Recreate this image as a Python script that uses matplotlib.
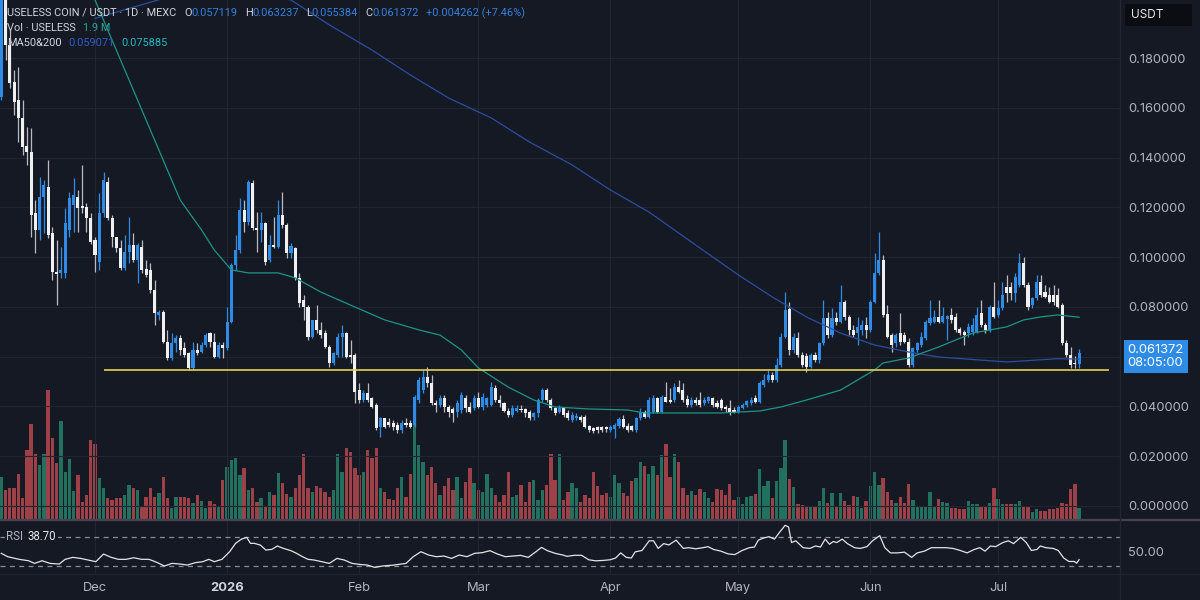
import numpy as np
import pandas as pd
import matplotlib
matplotlib.use("Agg")
import matplotlib.pyplot as plt
import matplotlib.dates as mdates
from matplotlib.patches import Rectangle
from matplotlib.lines import Line2D

plt.rcParams['font.family'] = ['Inter', 'DejaVu Sans']

# --- data (daily candles, USELESS/USDT) ---
start = '2025-11-09'

opens = [
    0.1644, 0.2034, 0.1853, 0.1704, 0.1632, 0.1560, 0.1447, 0.1423, 0.1178, 0.1110,
    0.1242, 0.1282, 0.1097, 0.0941, 0.0937, 0.0937, 0.1110, 0.1210, 0.1242, 0.1206,
    0.1202, 0.1158, 0.1069, 0.0981, 0.1178, 0.1302, 0.1158, 0.1081, 0.1037, 0.0957,
    0.1021, 0.1049, 0.0989, 0.1041, 0.0953, 0.0949, 0.0868, 0.0768, 0.0780, 0.0659,
    0.0595, 0.0655, 0.0675, 0.0635, 0.0615, 0.0555, 0.0627, 0.0619, 0.0647, 0.0695,
    0.0659, 0.0599, 0.0647, 0.0635, 0.0740, 0.0969, 0.1029, 0.1190, 0.1142, 0.1298,
    0.1118, 0.1110, 0.1138, 0.0989, 0.1049, 0.1041, 0.1170, 0.1130, 0.1017, 0.1037,
    0.0917, 0.0828, 0.0800, 0.0679, 0.0748, 0.0708, 0.0695, 0.0639, 0.0575, 0.0607,
    0.0679, 0.0695, 0.0607, 0.0607, 0.0466, 0.0426, 0.0454, 0.0434, 0.0406, 0.0318,
    0.0354, 0.0338, 0.0334, 0.0326, 0.0306, 0.0334, 0.0334, 0.0326, 0.0426, 0.0466,
    0.0519, 0.0494, 0.0414, 0.0406, 0.0434, 0.0398, 0.0390, 0.0378, 0.0386, 0.0434,
    0.0398, 0.0394, 0.0434, 0.0398, 0.0406, 0.0406, 0.0474, 0.0426, 0.0414, 0.0382,
    0.0366, 0.0382, 0.0390, 0.0390, 0.0378, 0.0358, 0.0374, 0.0426, 0.0466, 0.0426,
    0.0394, 0.0378, 0.0394, 0.0374, 0.0346, 0.0354, 0.0358, 0.0358, 0.0322, 0.0314,
    0.0318, 0.0318, 0.0318, 0.0306, 0.0310, 0.0322, 0.0350, 0.0322, 0.0322, 0.0306,
    0.0354, 0.0378, 0.0358, 0.0378, 0.0434, 0.0378, 0.0438, 0.0426, 0.0426, 0.0478,
    0.0466, 0.0430, 0.0406, 0.0426, 0.0426, 0.0414, 0.0422, 0.0434, 0.0414, 0.0426,
    0.0398, 0.0394, 0.0386, 0.0378, 0.0394, 0.0406, 0.0414, 0.0434, 0.0418, 0.0486,
    0.0507, 0.0527, 0.0507, 0.0567, 0.0679, 0.0792, 0.0627, 0.0675, 0.0607, 0.0603,
    0.0559, 0.0607, 0.0587, 0.0655, 0.0756, 0.0687, 0.0756, 0.0740, 0.0820, 0.0760,
    0.0708, 0.0695, 0.0708, 0.0728, 0.0708, 0.0820, 0.0937, 0.0989, 0.0772, 0.0687,
    0.0655, 0.0695, 0.0687, 0.0659, 0.0567, 0.0627, 0.0647, 0.0675, 0.0736, 0.0740,
    0.0760, 0.0740, 0.0752, 0.0768, 0.0760, 0.0712, 0.0699, 0.0695, 0.0699, 0.0699,
    0.0776, 0.0728, 0.0708, 0.0800, 0.0768, 0.0796, 0.0880, 0.0880, 0.0856, 0.0888,
    0.0977, 0.0888, 0.0808, 0.0836, 0.0900, 0.0860, 0.0848, 0.0848, 0.0848, 0.0808,
    0.0655, 0.0607, 0.0575, 0.057119,
]

highs = [
    0.2195, 0.2074, 0.1914, 0.1753, 0.1765, 0.1632, 0.1524, 0.1520, 0.1230, 0.1323,
    0.1311, 0.1391, 0.1122, 0.1069, 0.1041, 0.1198, 0.1262, 0.1319, 0.1270, 0.1371,
    0.1218, 0.1178, 0.1081, 0.1258, 0.1343, 0.1323, 0.1170, 0.1081, 0.1069, 0.1089,
    0.1162, 0.1097, 0.1057, 0.1069, 0.0989, 0.0977, 0.0909, 0.0788, 0.0788, 0.0708,
    0.0695, 0.0687, 0.0687, 0.0659, 0.0619, 0.0659, 0.0655, 0.0659, 0.0695, 0.0699,
    0.0695, 0.0659, 0.0659, 0.0800, 0.0977, 0.1089, 0.1238, 0.1230, 0.1311, 0.1311,
    0.1182, 0.1182, 0.1142, 0.1089, 0.1162, 0.1230, 0.1262, 0.1138, 0.1057, 0.1041,
    0.0937, 0.0848, 0.0808, 0.0748, 0.0808, 0.0740, 0.0708, 0.0647, 0.0619, 0.0695,
    0.0728, 0.0699, 0.0667, 0.0615, 0.0494, 0.0466, 0.0494, 0.0438, 0.0414, 0.0358,
    0.0354, 0.0354, 0.0346, 0.0338, 0.0346, 0.0354, 0.0346, 0.0446, 0.0519, 0.0547,
    0.0559, 0.0527, 0.0426, 0.0446, 0.0446, 0.0406, 0.0398, 0.0426, 0.0458, 0.0446,
    0.0418, 0.0446, 0.0458, 0.0454, 0.0438, 0.0498, 0.0486, 0.0446, 0.0418, 0.0394,
    0.0406, 0.0406, 0.0406, 0.0394, 0.0386, 0.0378, 0.0434, 0.0474, 0.0474, 0.0434,
    0.0398, 0.0406, 0.0398, 0.0386, 0.0378, 0.0374, 0.0366, 0.0366, 0.0326, 0.0318,
    0.0322, 0.0322, 0.0322, 0.0326, 0.0334, 0.0358, 0.0366, 0.0334, 0.0326, 0.0358,
    0.0394, 0.0386, 0.0438, 0.0446, 0.0438, 0.0446, 0.0498, 0.0474, 0.0494, 0.0507,
    0.0494, 0.0446, 0.0438, 0.0438, 0.0458, 0.0438, 0.0442, 0.0438, 0.0426, 0.0434,
    0.0406, 0.0426, 0.0398, 0.0406, 0.0414, 0.0426, 0.0438, 0.0446, 0.0503, 0.0531,
    0.0547, 0.0539, 0.0595, 0.0695, 0.0860, 0.0820, 0.0695, 0.0699, 0.0619, 0.0615,
    0.0615, 0.0619, 0.0659, 0.0828, 0.0780, 0.0796, 0.0780, 0.0888, 0.0828, 0.0768,
    0.0728, 0.0760, 0.0748, 0.0760, 0.0828, 0.1017, 0.1101, 0.1009, 0.0808, 0.0695,
    0.0695, 0.0776, 0.0699, 0.0675, 0.0639, 0.0659, 0.0699, 0.0748, 0.0828, 0.0788,
    0.0828, 0.0800, 0.0768, 0.0796, 0.0776, 0.0720, 0.0708, 0.0736, 0.0756, 0.0800,
    0.0828, 0.0736, 0.0808, 0.0900, 0.0828, 0.0900, 0.0929, 0.0900, 0.0937, 0.1017,
    0.1001, 0.0900, 0.0840, 0.0929, 0.0929, 0.0888, 0.0880, 0.0888, 0.0876, 0.0816,
    0.0667, 0.0639, 0.0603, 0.063237,
]

lows = [
    0.1632, 0.1793, 0.1680, 0.1572, 0.1463, 0.1411, 0.1371, 0.1081, 0.1017, 0.1069,
    0.1097, 0.1077, 0.0909, 0.0808, 0.0917, 0.0917, 0.1081, 0.1101, 0.1101, 0.1178,
    0.1101, 0.1053, 0.0941, 0.0949, 0.1162, 0.1150, 0.1041, 0.1021, 0.0949, 0.0949,
    0.0977, 0.0981, 0.0896, 0.0937, 0.0921, 0.0856, 0.0728, 0.0748, 0.0655, 0.0587,
    0.0587, 0.0619, 0.0607, 0.0599, 0.0547, 0.0547, 0.0607, 0.0615, 0.0639, 0.0639,
    0.0595, 0.0595, 0.0595, 0.0627, 0.0736, 0.0949, 0.1017, 0.1101, 0.1130, 0.1110,
    0.1021, 0.1061, 0.0969, 0.0981, 0.1037, 0.1037, 0.1118, 0.0997, 0.0997, 0.0909,
    0.0800, 0.0748, 0.0667, 0.0675, 0.0695, 0.0675, 0.0635, 0.0559, 0.0567, 0.0599,
    0.0599, 0.0595, 0.0575, 0.0414, 0.0414, 0.0418, 0.0418, 0.0394, 0.0306, 0.0277,
    0.0314, 0.0318, 0.0306, 0.0293, 0.0293, 0.0318, 0.0314, 0.0318, 0.0414, 0.0454,
    0.0478, 0.0406, 0.0378, 0.0398, 0.0378, 0.0358, 0.0338, 0.0358, 0.0374, 0.0378,
    0.0374, 0.0386, 0.0394, 0.0386, 0.0398, 0.0402, 0.0418, 0.0398, 0.0378, 0.0358,
    0.0358, 0.0378, 0.0378, 0.0358, 0.0346, 0.0346, 0.0358, 0.0418, 0.0418, 0.0386,
    0.0366, 0.0374, 0.0358, 0.0346, 0.0338, 0.0346, 0.0338, 0.0314, 0.0297, 0.0293,
    0.0293, 0.0297, 0.0297, 0.0297, 0.0273, 0.0314, 0.0314, 0.0297, 0.0302, 0.0297,
    0.0346, 0.0354, 0.0354, 0.0374, 0.0374, 0.0374, 0.0418, 0.0414, 0.0418, 0.0454,
    0.0418, 0.0398, 0.0398, 0.0406, 0.0398, 0.0406, 0.0414, 0.0398, 0.0394, 0.0386,
    0.0378, 0.0366, 0.0374, 0.0374, 0.0390, 0.0398, 0.0406, 0.0414, 0.0414, 0.0478,
    0.0498, 0.0498, 0.0498, 0.0559, 0.0675, 0.0607, 0.0615, 0.0599, 0.0559, 0.0539,
    0.0555, 0.0579, 0.0575, 0.0647, 0.0675, 0.0679, 0.0728, 0.0736, 0.0748, 0.0687,
    0.0679, 0.0647, 0.0687, 0.0675, 0.0699, 0.0816, 0.0929, 0.0760, 0.0675, 0.0619,
    0.0639, 0.0647, 0.0655, 0.0559, 0.0559, 0.0619, 0.0639, 0.0667, 0.0728, 0.0736,
    0.0736, 0.0736, 0.0667, 0.0736, 0.0699, 0.0687, 0.0647, 0.0679, 0.0687, 0.0695,
    0.0720, 0.0695, 0.0699, 0.0756, 0.0760, 0.0788, 0.0820, 0.0828, 0.0820, 0.0880,
    0.0880, 0.0788, 0.0796, 0.0828, 0.0840, 0.0836, 0.0816, 0.0808, 0.0796, 0.0647,
    0.0599, 0.0555, 0.0555, 0.055384,
]

closes = [
    0.2115, 0.1853, 0.1700, 0.1624, 0.1560, 0.1443, 0.1423, 0.1170, 0.1110, 0.1242,
    0.1290, 0.1089, 0.0941, 0.0933, 0.0949, 0.1138, 0.1238, 0.1250, 0.1198, 0.1198,
    0.1158, 0.1061, 0.1009, 0.1178, 0.1311, 0.1158, 0.1081, 0.1037, 0.0957, 0.1021,
    0.1049, 0.0989, 0.1049, 0.0949, 0.0929, 0.0868, 0.0776, 0.0780, 0.0659, 0.0595,
    0.0655, 0.0675, 0.0627, 0.0607, 0.0555, 0.0627, 0.0615, 0.0647, 0.0687, 0.0659,
    0.0599, 0.0647, 0.0635, 0.0740, 0.0969, 0.1029, 0.1190, 0.1142, 0.1302, 0.1118,
    0.1110, 0.1138, 0.0981, 0.1049, 0.1041, 0.1170, 0.1130, 0.1017, 0.1045, 0.0917,
    0.0816, 0.0800, 0.0679, 0.0748, 0.0708, 0.0687, 0.0639, 0.0575, 0.0615, 0.0679,
    0.0695, 0.0599, 0.0599, 0.0458, 0.0426, 0.0454, 0.0426, 0.0398, 0.0314, 0.0354,
    0.0318, 0.0326, 0.0318, 0.0306, 0.0334, 0.0326, 0.0318, 0.0438, 0.0507, 0.0519,
    0.0494, 0.0414, 0.0406, 0.0434, 0.0398, 0.0378, 0.0374, 0.0414, 0.0446, 0.0394,
    0.0378, 0.0434, 0.0398, 0.0438, 0.0434, 0.0478, 0.0426, 0.0414, 0.0382, 0.0366,
    0.0394, 0.0394, 0.0386, 0.0374, 0.0354, 0.0374, 0.0426, 0.0466, 0.0426, 0.0394,
    0.0374, 0.0394, 0.0366, 0.0354, 0.0366, 0.0362, 0.0346, 0.0318, 0.0306, 0.0302,
    0.0306, 0.0306, 0.0310, 0.0318, 0.0326, 0.0350, 0.0318, 0.0306, 0.0306, 0.0354,
    0.0378, 0.0358, 0.0426, 0.0434, 0.0378, 0.0438, 0.0418, 0.0418, 0.0478, 0.0458,
    0.0426, 0.0406, 0.0426, 0.0414, 0.0406, 0.0426, 0.0438, 0.0406, 0.0398, 0.0394,
    0.0390, 0.0378, 0.0378, 0.0398, 0.0406, 0.0422, 0.0426, 0.0418, 0.0494, 0.0507,
    0.0527, 0.0507, 0.0567, 0.0679, 0.0788, 0.0627, 0.0679, 0.0607, 0.0567, 0.0559,
    0.0607, 0.0587, 0.0655, 0.0756, 0.0687, 0.0756, 0.0740, 0.0820, 0.0760, 0.0708,
    0.0687, 0.0720, 0.0728, 0.0708, 0.0820, 0.0937, 0.0989, 0.0768, 0.0679, 0.0647,
    0.0687, 0.0659, 0.0659, 0.0567, 0.0635, 0.0655, 0.0679, 0.0740, 0.0756, 0.0760,
    0.0740, 0.0764, 0.0764, 0.0748, 0.0708, 0.0695, 0.0687, 0.0720, 0.0728, 0.0768,
    0.0728, 0.0708, 0.0800, 0.0760, 0.0796, 0.0848, 0.0856, 0.0856, 0.0921, 0.0977,
    0.0888, 0.0800, 0.0836, 0.0900, 0.0848, 0.0840, 0.0820, 0.0820, 0.0800, 0.0655,
    0.0607, 0.0567, 0.05711, 0.061372,
]

# volume in millions of USELESS
volumes = [
    6.7, 4.7, 4.9, 4.9, 7.1, 3.4, 10.8, 14.9, 10.3, 8.5,
    10.3, 20.2, 12.7, 8.9, 15.3, 7.5, 9.4, 4.5, 7.0, 2.8,
    3.9, 12.4, 11.8, 6.5, 4.9, 3.4, 3.1, 3.4, 3.4, 3.9,
    5.4, 4.9, 4.7, 2.2, 3.6, 4.9, 3.5, 4.2, 6.7, 3.4,
    1.8, 3.6, 3.6, 3.6, 3.4, 2.6, 3.9, 3.0, 1.8, 3.0,
    2.5, 2.1, 6.2, 8.2, 9.3, 9.6, 7.0, 8.0, 4.7, 4.9,
    2.8, 3.4, 2.2, 4.4, 3.9, 7.3, 5.7, 4.0, 3.6, 4.9,
    7.0, 10.2, 4.9, 4.4, 5.2, 4.9, 4.4, 3.6, 4.7, 10.3,
    7.5, 11.1, 10.6, 8.0, 7.0, 7.5, 10.8, 9.6, 11.1, 4.9,
    4.4, 3.2, 3.1, 4.9, 6.6, 3.6, 7.2, 16.8, 11.6, 9.0,
    7.0, 8.2, 5.7, 3.9, 5.3, 6.5, 4.7, 6.7, 3.4, 5.9,
    8.0, 5.7, 4.7, 4.4, 7.2, 4.9, 3.9, 2.8, 3.9, 7.5,
    3.6, 3.9, 5.4, 2.8, 5.9, 6.2, 3.1, 4.7, 5.4, 10.3,
    6.2, 10.2, 3.1, 4.4, 5.8, 4.9, 2.8, 3.9, 3.4, 7.5,
    5.3, 3.9, 4.2, 3.5, 7.0, 5.8, 4.2, 3.7, 6.1, 6.5,
    9.0, 8.3, 7.1, 8.3, 7.0, 10.1, 11.8, 6.6, 10.2, 9.0,
    4.9, 3.9, 4.5, 3.9, 4.8, 4.4, 3.4, 2.8, 4.8, 4.7,
    3.9, 5.6, 3.1, 3.6, 2.5, 3.6, 3.7, 4.0, 7.9, 5.2,
    6.1, 3.4, 6.1, 8.0, 12.4, 6.3, 5.1, 2.5, 2.3, 2.2,
    2.2, 2.2, 3.0, 4.9, 2.7, 4.2, 2.0, 4.2, 3.0, 2.3,
    3.7, 3.5, 1.8, 3.0, 5.3, 7.5, 5.4, 6.5, 4.4, 3.1,
    2.6, 3.6, 2.6, 5.6, 3.1, 2.2, 2.2, 2.2, 4.4, 2.2,
    3.2, 2.8, 2.7, 1.8, 1.8, 1.7, 1.7, 3.0, 2.5, 2.5,
    2.0, 2.1, 2.6, 4.9, 3.2, 2.5, 2.5, 2.5, 2.5, 3.0,
    2.0, 2.2, 1.3, 1.7, 1.4, 1.4, 1.7, 1.7, 1.8, 2.7,
    2.5, 4.8, 5.6, 1.9,
]

# moving averages read at points along the lines (days since start)
ma50_day = [18, 22, 26, 31, 36, 42, 47, 50, 54, 58, 65, 69, 75, 83, 90, 98, 103,
            108, 112, 119, 125, 130, 138, 147, 151, 158, 169, 178, 183, 189, 197,
            205, 207, 213, 220, 228, 236, 240, 244, 248, 253]
ma50_val = [0.2190, 0.2034, 0.1873, 0.1672, 0.1471, 0.1230, 0.1110, 0.1029, 0.0949,
            0.0937, 0.0937, 0.0917, 0.0860, 0.0800, 0.0748, 0.0708, 0.0687, 0.0627,
            0.0555, 0.0478, 0.0426, 0.0398, 0.0390, 0.0386, 0.0374, 0.0374, 0.0374,
            0.0382, 0.0398, 0.0426, 0.0466, 0.0547, 0.0575, 0.0595, 0.0639, 0.0695,
            0.0720, 0.0748, 0.0760, 0.0768, 0.075885]

ma200_day = [22, 30, 38, 48, 58, 68, 77, 87, 96, 105, 115, 124, 134, 143, 152, 164,
             173, 181, 189, 197, 205, 213, 220, 236, 248, 253]
ma200_val = [0.1960, 0.2000, 0.2040, 0.2065, 0.2070, 0.2034, 0.1934, 0.1833, 0.1733,
             0.1640, 0.1560, 0.1463, 0.1371, 0.1270, 0.1182, 0.1037, 0.0929, 0.0840,
             0.0760, 0.0695, 0.0647, 0.0619, 0.0599, 0.0579, 0.0592, 0.059071]

# RSI(14)
rsi_day = [0, 1.5, 4.2, 6.4, 7.8, 9.6, 11.4, 13.6, 15.0, 16.8, 18.6, 20.4, 22.2, 24.0,
           25.8, 27.5, 29.3, 31.1, 32.9, 34.7, 36.5, 38.3, 40.1, 41.9, 43.7, 45.5,
           47.3, 48.7, 50.0, 51.8, 53.6, 55.0, 56.3, 57.6, 58.5, 59.4, 60.8, 62.1,
           63.5, 64.8, 66.2, 68.0, 69.3, 70.7, 72.0, 73.4, 75.2, 77.0, 78.8, 80.5,
           82.3, 84.1, 85.9, 87.7, 89.5, 92.2, 95.0, 96.7, 98.5, 100.3, 102.1, 103.9,
           105.7, 107.5, 109.3, 111.1, 112.9, 114.7, 116.5, 118.3, 120.1, 121.9,
           123.7, 125.5, 126.8, 128.2, 130.0, 131.8, 132.8, 134.5, 136.2, 137.9,
           139.5, 141.2, 142.9, 144.2, 145.4, 146.7, 147.9, 148.8, 150.4, 152.1,
           153.1, 154.2, 155.5, 156.7, 158.4, 160.1, 161.3, 163.0, 164.7, 165.9,
           167.2, 168.9, 170.6, 172.2, 173.9, 175.6, 176.8, 177.7, 178.9, 180.2,
           181.5, 182.7, 184.0, 184.8, 185.5, 186.5, 188.2, 189.8, 191.1, 192.3,
           193.4, 194.4, 195.3, 196.1, 197.4, 198.6, 200.3, 201.6, 203.2, 204.5,
           206.2, 207.4, 208.7, 210.4, 212.0, 213.7, 215.0, 216.7, 218.3, 220.0,
           221.7, 223.4, 225.1, 226.7, 228.4, 229.7, 230.9, 232.2, 233.4, 235.1,
           236.4, 237.6, 239.3, 240.6, 241.8, 243.1, 243.9, 245.2, 246.9, 248.1,
           249.4, 250.6, 251.9, 252.4, 253.0]
rsi_val = [47.3, 42.7, 39.1, 37.2, 33.6, 37.2, 33.6, 32.7, 39.1, 41.8, 40.4, 38.2,
           35.9, 46.3, 41.8, 39.1, 39.1, 41.3, 39.1, 39.1, 35.0, 30.0, 33.6, 32.7,
           31.3, 34.5, 35.9, 39.1, 35.9, 39.1, 49.5, 60.9, 66.4, 69.1, 60.9, 60.9,
           58.6, 51.8, 52.7, 57.3, 54.1, 50.9, 47.3, 42.7, 39.1, 38.2, 35.9, 33.6,
           40.4, 38.2, 33.6, 32.2, 31.3, 28.1, 30.0, 31.3, 33.6, 42.7, 49.5, 45.0,
           42.7, 43.6, 40.4, 45.0, 42.7, 47.3, 48.2, 50.9, 46.3, 42.7, 43.6, 44.5,
           41.8, 49.5, 55.4, 50.9, 47.3, 45.0, 43.2, 44.6, 44.6, 38.5, 37.1, 37.6,
           38.5, 40.9, 47.9, 41.8, 40.9, 49.3, 51.2, 64.4, 64.4, 54.0, 60.6, 58.7,
           65.3, 54.0, 55.0, 53.5, 55.0, 56.4, 52.6, 50.3, 46.5, 45.6, 51.2, 55.0,
           55.9, 65.3, 68.1, 70.0, 66.7, 76.1, 85.5, 83.2, 62.0, 64.4, 55.0, 54.0,
           57.3, 55.9, 66.7, 59.7, 63.4, 62.0, 66.7, 60.6, 55.0, 54.0, 56.4, 64.4,
           71.4, 55.0, 47.9, 47.9, 48.9, 41.8, 47.9, 50.3, 55.0, 55.0, 55.0, 54.0,
           51.2, 47.9, 52.6, 55.0, 50.3, 57.3, 56.4, 62.0, 64.4, 60.6, 69.1, 62.0,
           51.2, 52.6, 57.3, 55.0, 54.0, 51.2, 40.9, 36.2, 36.2, 33.8, 38.70]

support_level = 0.0547
support_from = '2025-12-03'
support_to = '2026-07-27'

month_starts = ['2025-12-01', '2026-01-01', '2026-02-01', '2026-03-01',
                '2026-04-01', '2026-05-01', '2026-06-01', '2026-07-01']
month_labels = ['Dec', '2026', 'Feb', 'Mar', 'Apr', 'May', 'Jun', 'Jul']
price_ticks = [0.0, 0.02, 0.04, 0.06, 0.08, 0.10, 0.12, 0.14, 0.16, 0.18]

# --- colours ---
BG = '#151924'
GRID = '#212532'
TXT = '#b2b5be'
UP = '#2f8ce6'
DOWN = '#f0f0f0'
DOWN_WICK = '#b9bbc0'
VOL_UP = '#22715f'
VOL_DOWN = '#9e4047'
MA200_C = '#2a4f9e'
MA50_C = '#1c9587'

W, H = 1200, 600
fig = plt.figure(figsize=(12, 6), dpi=100, facecolor=BG)

ax = fig.add_axes([0, 80 / H, 1120 / W, 520 / H])
axv = ax.twinx()
ax.set_zorder(axv.get_zorder() + 1)
ax.patch.set_visible(False)
axv.patch.set_visible(False)
axr = fig.add_axes([0, 26 / H, 1120 / W, 53 / H], sharex=ax)
axr.set_facecolor(BG)

d0 = pd.Timestamp(start)
dates = pd.date_range(start, periods=len(closes), freq='D')
x = mdates.date2num(dates)
o = np.array(opens)
hi = np.array(highs)
lo = np.array(lows)
c = np.array(closes)
up = c >= o

# volume (behind)
axv.bar(x, volumes, width=0.78, color=np.where(up, VOL_UP, VOL_DOWN), linewidth=0)
axv.set_ylim(0, 80.6)
axv.set_yticks([])

# candles
ax.vlines(x, lo, hi, colors=np.where(up, UP, DOWN_WICK), linewidth=0.9, zorder=3)
ax.bar(x, np.maximum(np.abs(c - o), 0.0004), bottom=np.minimum(o, c), width=0.72,
       color=np.where(up, UP, DOWN), linewidth=0, zorder=4)


def day_to_num(days):
    return mdates.date2num(d0) + np.array(days, dtype=float)


# moving averages
ax.plot(day_to_num(ma200_day), ma200_val, color=MA200_C, lw=0.9, zorder=5)
ax.plot(day_to_num(ma50_day), ma50_val, color=MA50_C, lw=0.9, zorder=5)

# support line
ax.hlines(support_level, mdates.date2num(pd.Timestamp(support_from)),
          mdates.date2num(pd.Timestamp(support_to)), color='#e3cf4f', lw=1.2, zorder=6)

ax.set_xlim(x[0] - 0.3, x[0] + 262.6)
ax.set_ylim(-0.00563, 0.2034)

month_x = mdates.date2num(pd.to_datetime(month_starts))
ax.set_xticks(month_x)
ax.tick_params(axis='x', length=0, labelbottom=False)
ax.yaxis.tick_right()
ax.set_yticks(price_ticks)
# the tick under the last-price badge is covered by it
ax.set_yticklabels(['' if abs(v - closes[-1]) < 0.006 else f'{v:.6f}' for v in price_ticks])
ax.tick_params(axis='y', length=0, pad=5.8, labelsize=9.3, labelcolor=TXT)
ax.grid(True, color=GRID, lw=0.8)
ax.set_axisbelow(True)
for a in (ax, axv, axr):
    for s in a.spines.values():
        s.set_visible(False)

# RSI panel
axr.plot(day_to_num(rsi_day), rsi_val, color='#e4e4e4', lw=0.9, zorder=3)
for lvl in (70, 30):
    axr.axhline(lvl, color='#8a8d96', lw=0.9, ls=(0, (4, 3.5)), zorder=2)
axr.set_ylim(19.1, 91.4)
axr.set_xticks(month_x)
axr.set_xticklabels(month_labels)
axr.tick_params(axis='x', length=0, pad=6, labelsize=9.3, labelcolor=TXT)
for t in axr.get_xticklabels():
    if t.get_text() == '2026':
        t.set_fontweight('bold')
        t.set_color('#d1d4dc')
axr.yaxis.tick_right()
axr.set_yticks([50])
axr.set_yticklabels(['50.00'])
axr.tick_params(axis='y', length=0, pad=5.8, labelsize=9.3, labelcolor=TXT)
axr.grid(True, axis='x', color=GRID, lw=0.8)
axr.set_axisbelow(True)

# separators
fig.add_artist(Line2D([0, 1], [80 / H, 80 / H], color='#434651', lw=1.6))
fig.add_artist(Line2D([1120 / W, 1120 / W], [0, 1], color='#232733', lw=1.0))
fig.add_artist(Line2D([0, 1], [26 / H, 26 / H], color='#1f2330', lw=1.0))

# last price label
ax.annotate(f'{closes[-1]:.6f}\n08:05:00', xy=(1, closes[-1]),
            xycoords=ax.get_yaxis_transform(), xytext=(5.5, 6.5),
            textcoords='offset points', ha='left', va='top', color='white',
            fontsize=9.3, linespacing=1.1, annotation_clip=False, zorder=10,
            bbox=dict(boxstyle='square,pad=0.32', fc=UP, ec='none'))

# currency box
fig.patches.append(Rectangle((1125 / W, 1 - 26 / H), 67 / W, 22 / H,
                             transform=fig.transFigure, fc='#0b0d12', ec='none'))
fig.text(1131 / W, 1 - 15 / H, 'USDT', color='#e6e6e6', fontsize=8.5, va='center')

# header legend
rend = fig.canvas.get_renderer()


def put_line(pieces, x_px, y_px, size=7.9, bg=None, family=('Roboto', 'DejaVu Sans')):
    for s, col, gap in pieces:
        kw = {}
        if bg is not None:
            kw['bbox'] = dict(boxstyle='square,pad=0.1', fc=bg, ec='none')
        t = fig.text(x_px / W, 1 - y_px / H, s, color=col, fontsize=size,
                     va='center', ha='left', zorder=20, family=list(family), **kw)
        x_px += t.get_window_extent(rend).width + gap


chg = closes[-1] - closes[-2]
pct = chg / closes[-2] * 100
LBL = '#d1d4dc'
VAL = '#3580dc'
put_line([('USELESS COIN / USDT · 1D · MEXC', LBL, 8),
          ('O', LBL, 0), (f'{opens[-1]:.6f}', VAL, 7),
          ('H', LBL, 0), (f'{highs[-1]:.6f}', VAL, 7),
          ('L', LBL, 0), (f'{lows[-1]:.6f}', VAL, 7),
          ('C', LBL, 0), (f'{closes[-1]:.6f}', VAL, 7),
          (f'+{chg:.6f} ({pct:+.2f}%)', VAL, 0)], 7, 13)
put_line([('Vol · USELESS', LBL, 7), (f'{volumes[-1]:.1f} M', '#26a69a', 0)], 7, 28)
put_line([('MA50&200', LBL, 7), (f'{ma200_val[-1]:.6f}', '#2f5fc8', 7),
          (f'{ma50_val[-1]:.6f}', '#26b5bf', 0)], 7, 43)
put_line([('RSI', TXT, 5), (f'{rsi_val[-1]:.2f}', '#e6e6e6', 0)], 6, 537, size=8.3, bg=BG)

fig.savefig('out.png', dpi=100, facecolor=BG)
